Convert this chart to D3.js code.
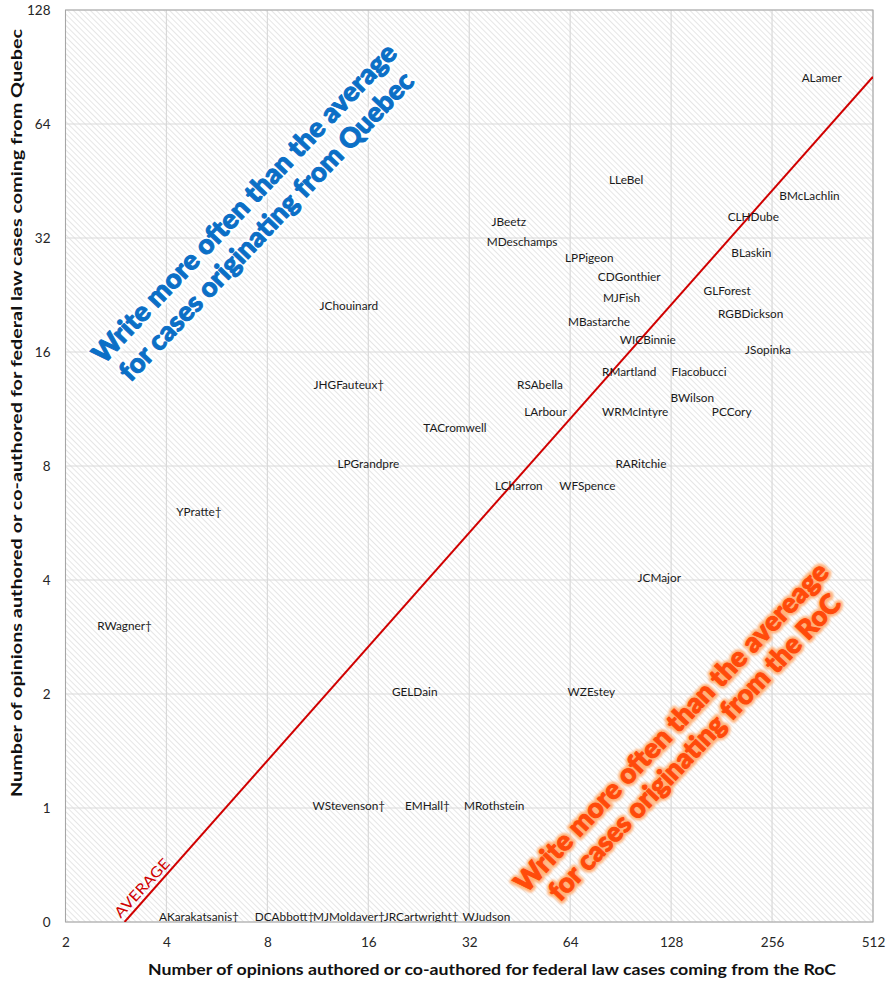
<!DOCTYPE html>
<html>
<head>
<meta charset="utf-8">
<script src="https://cdn.jsdelivr.net/npm/d3@7"></script>
<style>
  html, body { margin: 0; padding: 0; background: #fff; }
  svg { display: block; }
</style>
</head>
<body>
<svg id="chart" width="893" height="982"></svg>
<script>
// ---------- DATA ----------
const judges = ["ALamer","LLeBel","BMcLachlin","CLHDube","JBeetz","MDeschamps","LPPigeon","BLaskin",
  "CDGonthier","MJFish","GLForest","RGBDickson","MBastarche","JChouinard","WICBinnie","JSopinka",
  "RMartland","FIacobucci","RSAbella","JHGFauteux†","BWilson","PCCory","LArbour","WRMcIntyre",
  "TACromwell","RARitchie","LPGrandpre","LCharron","WFSpence","YPratte†","JCMajor","RWagner†",
  "GELDain","WZEstey","WStevenson†","EMHall†","MRothstein",
  "AKarakatsanis†","DCAbbott†","MJMoldaver†","JRCartwright†","WJudson"];
// opinions for federal law cases from the Rest of Canada (x)
const rocCounts = [360,94,331,225,42,46,73,222,
  96,91,188,221,78,14,109,249,
  96,155,52,14,148,194,54,100,
  29,104,16,45,72,5,118,3,
  22,74,14,24,38,
  5,9,14,23,36];
// opinions for federal law cases from Quebec (y)
const quebecCounts = [84,45,41,36,35,31,28,29,
  25,22,23,20,19,21,17,16,
  14,14,13,13,12,11,11,11,
  10,8,8,7,7,6,4,3,
  2,2,1,1,1,
  0,0,0,0,0];
const xTicks = [2,4,8,16,32,64,128,256,512];
const yTicks = [0.5,1,2,4,8,16,32,64,128];
const yTickLabels = ["0","1","2","4","8","16","32","64","128"];
const averageX = [3, 512];
const averageY = [0.5, 85.3];
const quebecNote = ["Write more often than the average", "for cases originating from Quebec"];
const rocNote = ["Write more often than the avereage", "for cases originating from the RoC"];

// ---------- LAYOUT ----------
const svg = d3.select("#chart");
const L = 65.5, R = 873, T = 10, B = 922;
const x = d3.scaleLog().base(2).domain([2, 512]).range([L, R]);
const y = d3.scaleLog().base(2).domain([0.5, 128]).range([B, T]);
const yv = v => y(v === 0 ? 0.5 : v);
const FONT = "Lato, 'Open Sans', sans-serif";

const defs = svg.append("defs");
const pat = defs.append("pattern").attr("id", "hatch").attr("patternUnits", "userSpaceOnUse")
  .attr("width", 4).attr("height", 4).attr("patternTransform", "rotate(-45)");
pat.append("rect").attr("width", 4).attr("height", 4).attr("fill", "#ffffff");
pat.append("line").attr("x1", 0).attr("y1", 0).attr("x2", 0).attr("y2", 4)
  .attr("stroke", "#d2d2d2").attr("stroke-width", 1.1);

const blurW = defs.append("filter").attr("id", "glowBlue").attr("x", "-10%").attr("y", "-30%").attr("width", "120%").attr("height", "160%");
blurW.append("feGaussianBlur").attr("stdDeviation", 1.2);
const blurO = defs.append("filter").attr("id", "glowOrange").attr("x", "-10%").attr("y", "-30%").attr("width", "120%").attr("height", "160%");
blurO.append("feGaussianBlur").attr("stdDeviation", 1.3);

defs.append("clipPath").attr("id", "plotClip").append("rect")
  .attr("x", L).attr("y", T).attr("width", R - L).attr("height", B - T);

// plot background
svg.append("rect").attr("x", L).attr("y", T).attr("width", R - L).attr("height", B - T)
  .attr("fill", "url(#hatch)");

// gridlines
const grid = svg.append("g");
grid.selectAll("line.gx").data(xTicks).join("line")
  .attr("x1", d => x(d)).attr("x2", d => x(d)).attr("y1", T).attr("y2", B)
  .attr("stroke", "#d9d9d9").attr("stroke-width", 1.2);
grid.selectAll("line.gy").data(yTicks).join("line")
  .attr("y1", d => y(d)).attr("y2", d => y(d)).attr("x1", L).attr("x2", R)
  .attr("stroke", "#d9d9d9").attr("stroke-width", 1.2);

// border
svg.append("rect").attr("x", L).attr("y", T).attr("width", R - L).attr("height", B - T)
  .attr("fill", "none").attr("stroke", "#a6a6a6").attr("stroke-width", 1);

// axes (labels only)
const xAxis = d3.axisBottom(x).tickValues(xTicks).tickFormat(d3.format("d")).tickSize(0).tickPadding(15);
const gx = svg.append("g").attr("transform", `translate(0,${B})`).call(xAxis);
gx.select(".domain").remove();
gx.selectAll("text").attr("font-family", FONT).attr("font-size", 13.5).attr("fill", "#262626");

const yAxis = d3.axisLeft(y).tickValues(yTicks).tickFormat((d, i) => yTickLabels[i]).tickSize(0).tickPadding(15);
const gy = svg.append("g").attr("transform", `translate(${L},0)`).call(yAxis);
gy.select(".domain").remove();
gy.selectAll("text").attr("font-family", FONT).attr("font-size", 13.5).attr("fill", "#262626");

// axis titles
svg.append("text").attr("x", 492).attr("y", 975).attr("text-anchor", "middle")
  .attr("font-family", FONT).attr("font-weight", "bold").attr("font-size", 15.5).attr("fill", "#111")
  .attr("textLength", 688).attr("lengthAdjust", "spacingAndGlyphs")
  .text("Number of opinions authored or co-authored for federal law cases coming from the RoC");
svg.append("text").attr("transform", "translate(22,413) rotate(-90)").attr("text-anchor", "middle")
  .attr("font-family", FONT).attr("font-weight", "bold").attr("font-size", 15.5).attr("fill", "#111")
  .attr("textLength", 768).attr("lengthAdjust", "spacingAndGlyphs")
  .text("Number of opinions authored or co-authored for federal law cases coming from Quebec");

const plot = svg.append("g").attr("clip-path", "url(#plotClip)");

// annotations
const ANG = -46.5;
function note(lines, centers, lengths, fill, halo, filt) {
  lines.forEach((t, i) => {
    const g = plot.append("g").attr("transform", `translate(${centers[i][0]},${centers[i][1]}) rotate(${ANG})`);
    g.append("text").attr("text-anchor", "middle").attr("dy", "0.36em")
      .attr("font-family", FONT).attr("font-weight", 900).attr("font-size", 27)
      .attr("textLength", lengths[i]).attr("lengthAdjust", "spacingAndGlyphs")
      .attr("fill", halo).attr("stroke", halo).attr("stroke-width", 6).attr("stroke-linejoin", "round")
      .attr("filter", `url(#${filt})`).text(t);
    g.append("text").attr("text-anchor", "middle").attr("dy", "0.36em")
      .attr("font-family", FONT).attr("font-weight", 900).attr("font-size", 27)
      .attr("textLength", lengths[i]).attr("lengthAdjust", "spacingAndGlyphs")
      .attr("fill", fill).attr("stroke", fill).attr("stroke-width", 1).attr("stroke-linejoin", "round")
      .text(t);
  });
}
note(quebecNote, [[244, 203], [266, 226]], [428, 414], "#0B6FC6", "#ffffff", "glowBlue");
note(rocNote, [[671, 727], [694, 747]], [442, 410], "#FF4A0A", "#FFB27A", "glowOrange");

// average line
const avgData = averageX.map((v, i) => [v, averageY[i]]);
plot.append("path").datum(avgData)
  .attr("d", d3.line().x(d => x(d[0])).y(d => y(d[1])))
  .attr("fill", "none").attr("stroke", "#D00000").attr("stroke-width", 2);
plot.append("text").attr("transform", "translate(142,888) rotate(-47.5)")
  .attr("text-anchor", "middle").attr("dy", "0.35em")
  .attr("font-family", FONT).attr("font-size", 14.5).attr("fill", "#D00000")
  .attr("textLength", 74).attr("lengthAdjust", "spacingAndGlyphs")
  .text("AVERAGE");

// data labels
const pts = judges.map((n, i) => ({ name: n, rx: rocCounts[i], qy: quebecCounts[i] }));
plot.selectAll("text.lbl").data(pts).join("text")
  .attr("class", "lbl")
  .attr("x", d => x(d.rx)).attr("y", d => yv(d.qy))
  .attr("dy", d => d.qy === 0 ? "-0.05em" : "0.2em")
  .attr("text-anchor", "middle")
  .attr("font-family", FONT).attr("font-size", 11.8).attr("fill", "#1a1a1a")
  .text(d => d.name);
</script>
</body>
</html>
